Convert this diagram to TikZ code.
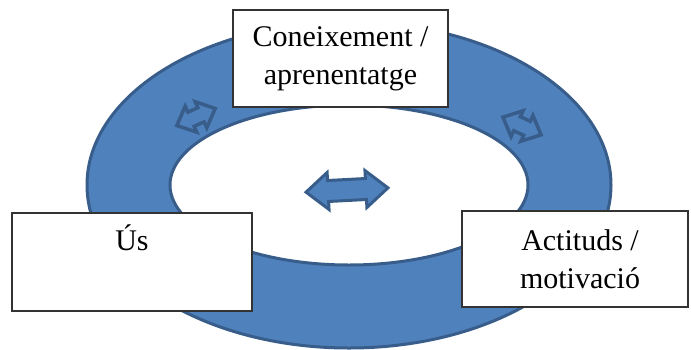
\documentclass[tikz,border=0pt]{standalone}
\usepackage{fontspec}
\setmainfont{Liberation Serif}
\usetikzlibrary{shapes.arrows}
\definecolor{ringblue}{HTML}{4F81BD}
\definecolor{ringedge}{HTML}{385D8A}

\begin{document}
\begin{tikzpicture}[
    x=1pt, y=-1pt, % pixel grid, y runs downwards
    boxnode/.style={draw=black!80, fill=white, line width=1.2pt, align=center, inner sep=0pt, font=\fontsize{30}{38}\selectfont}, % white text boxes
    bigarrow/.style={double arrow, draw=ringedge, fill=ringblue, line width=3pt, inner xsep=0pt, inner ysep=9pt, minimum height=82pt, double arrow head extend=8pt, double arrow tip angle=80}, % arrow in the middle
    smallarrow/.style={double arrow, draw=ringedge, fill=ringblue, line width=3.5pt, inner xsep=0pt, inner ysep=6pt, minimum height=42pt, double arrow head extend=6.5pt, double arrow tip angle=85} % arrows on the ring
]
\useasboundingbox (0,0) rectangle (691,349);

% the ring
\coordinate (ringc) at (349,185);
\fill[ringblue, even odd rule] (ringc) ellipse [x radius=262, y radius=163]
    (ringc) ellipse [x radius=179, y radius=80];
\draw[ringedge, line width=3pt] (ringc) ellipse [x radius=262, y radius=163];
\draw[ringedge, line width=3pt] (ringc) ellipse [x radius=179, y radius=80];

% arrows
\node[bigarrow, rotate=3] (arrmid) at (347,190) {};
\node[smallarrow, rotate=24] (arrleft) at (196,117) {};
\node[smallarrow, rotate=-25] (arrright) at (522,126) {};

% boxes
\node[boxnode, minimum width=215pt, minimum height=97pt] (know) at (340.5,58.5) {Coneixement /\\aprenentatge};
\node[boxnode, minimum width=240pt, minimum height=98pt] (us) at (132,262) {Ús\\ \strut};
\node[boxnode, minimum width=226pt, minimum height=96pt] (act) at (575,259) {\hspace*{10pt}Actituds /\\\hspace*{10pt}motivació};
\end{tikzpicture}
\end{document}
